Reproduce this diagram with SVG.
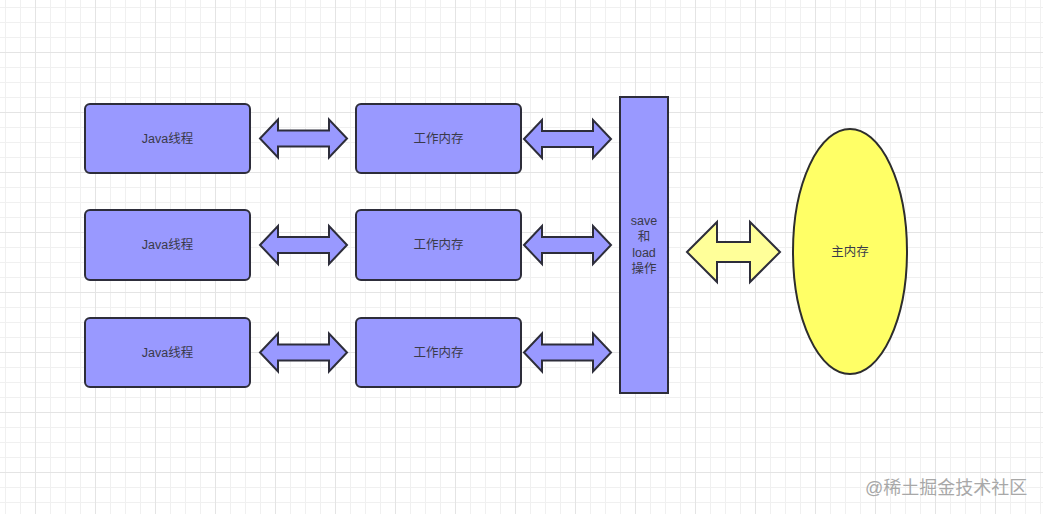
<svg xmlns="http://www.w3.org/2000/svg" width="1043" height="514" viewBox="0 0 1043 514">
  <defs>
    <pattern id="grid" x="5" y="7" width="15" height="15" patternUnits="userSpaceOnUse">
      <path d="M0.5 0 V15 M0 0.5 H15" fill="none" stroke="#f0f0f0" stroke-width="1"/>
    </pattern>
    <pattern id="gridMajor" x="35" y="52" width="60" height="60" patternUnits="userSpaceOnUse">
      <path d="M0.5 0 V60 M0 0.5 H60" fill="none" stroke="#e4e4e4" stroke-width="1"/>
    </pattern>
    <path id="arr" d="M0 0 L18 -19 L18 -8 L69 -8 L69 -19 L87 0 L69 19 L69 8 L18 8 L18 19 Z"/>
  </defs>
  <style>
    .box { fill: #9999ff; stroke: #2d2d3a; stroke-width: 2; }
    .arrow { fill: #9999ff; stroke: #2d2d3a; stroke-width: 2; stroke-linejoin: miter; }
    .yarrow { fill: #ffff99; stroke: #2d2d3a; stroke-width: 2; }
    .lbl { font-family: "Liberation Sans", "Noto Sans CJK SC", sans-serif; font-size: 12.5px; fill: #3a3a4a; text-anchor: middle; dominant-baseline: central; }
    .wm { font-family: "Liberation Sans", "Noto Sans CJK SC", sans-serif; font-size: 18px; fill: #a8a8a8; }
  </style>
  <rect width="1043" height="514" fill="#ffffff"/>
  <rect width="1043" height="514" fill="url(#grid)"/>
  <rect width="1043" height="514" fill="url(#gridMajor)"/>

  <g id="connectors">
    <use href="#arr" class="arrow" x="260" y="138.5"/>
    <use href="#arr" class="arrow" x="260" y="245"/>
    <use href="#arr" class="arrow" x="260" y="352.5"/>
    <use href="#arr" class="arrow" x="524" y="139"/>
    <use href="#arr" class="arrow" x="524" y="245"/>
    <use href="#arr" class="arrow" x="524" y="352.5"/>
    <path class="yarrow" d="M687 252 L717 222 L717 242 L750 242 L750 222 L780 252 L750 282 L750 262 L717 262 L717 282 Z"/>
  </g>

  <g id="java1">
    <rect class="box" x="85" y="104" width="165" height="69" rx="5"/>
    <text class="lbl" x="167.5" y="138.5">Java线程</text>
  </g>
  <g id="java2">
    <rect class="box" x="85" y="210" width="165" height="70" rx="5"/>
    <text class="lbl" x="167.5" y="245">Java线程</text>
  </g>
  <g id="java3">
    <rect class="box" x="85" y="318" width="165" height="69" rx="5"/>
    <text class="lbl" x="167.5" y="352.5">Java线程</text>
  </g>
  <g id="work1">
    <rect class="box" x="356" y="104" width="165" height="69" rx="5"/>
    <text class="lbl" x="438.5" y="138.5">工作内存</text>
  </g>
  <g id="work2">
    <rect class="box" x="356" y="210" width="165" height="70" rx="5"/>
    <text class="lbl" x="438.5" y="245">工作内存</text>
  </g>
  <g id="work3">
    <rect class="box" x="356" y="318" width="165" height="69" rx="5"/>
    <text class="lbl" x="438.5" y="352.5">工作内存</text>
  </g>
  <g id="saveload">
    <rect class="box" x="620" y="97" width="48" height="296"/>
    <text class="lbl" x="644" y="221">save</text>
    <text class="lbl" x="644" y="237">和</text>
    <text class="lbl" x="644" y="253">load</text>
    <text class="lbl" x="644" y="269">操作</text>
  </g>
  <g id="mainmem">
    <ellipse cx="850" cy="251.5" rx="57" ry="122.5" fill="#ffff66" stroke="#2d2d2d" stroke-width="2"/>
    <text class="lbl" x="850" y="252">主内存</text>
  </g>
  <text class="wm" x="865" y="494">@稀土掘金技术社区</text>
</svg>
